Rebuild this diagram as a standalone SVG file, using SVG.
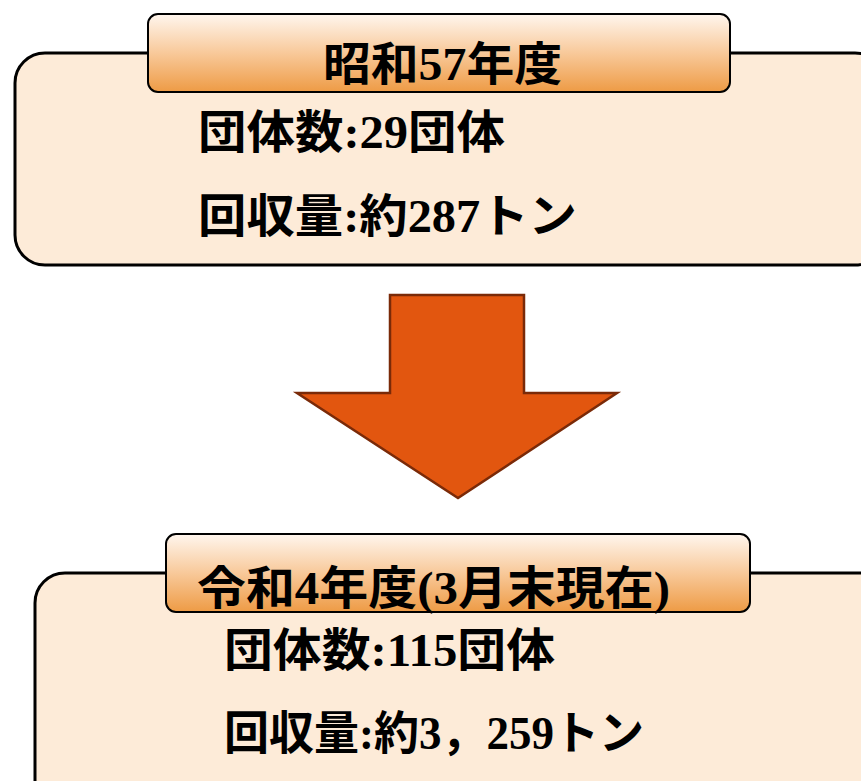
<svg xmlns="http://www.w3.org/2000/svg" width="861" height="781" viewBox="0 0 861 781">
<defs>
<linearGradient id="tabg" x1="0" y1="0" x2="0" y2="1">
<stop offset="0" stop-color="#FFF6EE"/>
<stop offset="0.5" stop-color="#F8C99A"/>
<stop offset="1" stop-color="#EE9B45"/>
</linearGradient>
<style>
.box{fill:#FDEBD8;stroke:#000;stroke-width:3}
.tab{fill:url(#tabg);stroke:#000;stroke-width:2}
.t{font-family:"Liberation Serif","Noto Sans CJK JP",serif;font-weight:bold;font-size:46px;fill:#000}
.arrow{fill:#E2560F;stroke:#7A2A08;stroke-width:2.5;stroke-linejoin:miter}
</style>
</defs>
<g id="box1">
<rect class="box" x="15" y="53" width="870" height="212" rx="30"/>
<rect class="tab" x="148" y="14" width="582" height="78" rx="10"/>
<text class="t" x="323" y="80" textLength="239" lengthAdjust="spacingAndGlyphs">昭和57年度</text>
<text class="t" x="198" y="148" textLength="307" lengthAdjust="spacingAndGlyphs">団体数:29団体</text>
<text class="t" x="198" y="232" textLength="379" lengthAdjust="spacingAndGlyphs">回収量:約287トン</text>
</g>
<g id="connectors">
<polygon class="arrow" points="390,295 524,295 524,393 617,393 458,498 297,393 390,393"/>
</g>
<g id="box2">
<rect class="box" x="35" y="573" width="860" height="260" rx="30"/>
<rect class="tab" x="166" y="534" width="584" height="78" rx="10"/>
<text class="t" x="197" y="604" textLength="473" lengthAdjust="spacingAndGlyphs">令和4年度(3月末現在)</text>
<text class="t" x="224" y="666" textLength="331" lengthAdjust="spacingAndGlyphs">団体数:115団体</text>
<text class="t" x="224" y="749" textLength="420" lengthAdjust="spacingAndGlyphs">回収量:約3，259トン</text>
</g>
</svg>
